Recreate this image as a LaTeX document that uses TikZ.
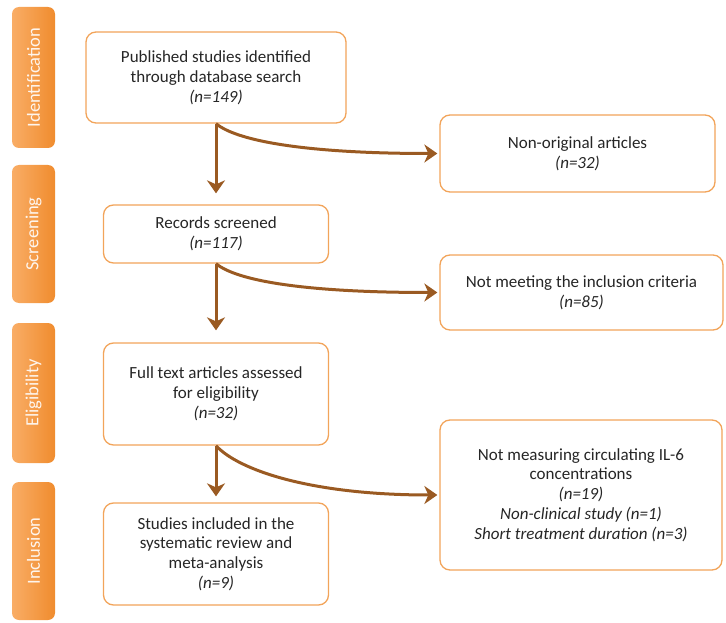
\documentclass[tikz,border=0pt]{standalone}
\usepackage{fontspec}
\setmainfont{Carlito}
\usetikzlibrary{arrows.meta}
\definecolor{boxorange}{HTML}{F2A45A}
\definecolor{phaselight}{HTML}{F9AD66}
\definecolor{phasedark}{HTML}{F08C2E}
\definecolor{arrowbrown}{HTML}{9A5A22}
\definecolor{textgray}{HTML}{262626}
\begin{document}
\begin{tikzpicture}[x=1pt,y=-1pt,
  box/.style={draw=boxorange, line width=1.3pt, rounded corners=10pt, fill=white,
    align=center, inner sep=3pt, text=textgray, font=\fontsize{17}{19.8}\selectfont},
  phase/.style={left color=phaselight, right color=phasedark,
    rounded corners=7pt, rotate=90, minimum height=43pt, inner sep=0pt,
    text=white!88!phaselight, font=\fontsize{18.5}{20}\selectfont},
  flow/.style={draw=arrowbrown, line width=3pt, -{Stealth[length=13pt,width=18pt,inset=4pt]}}
]
\useasboundingbox (0,0) rectangle (726,623);
% phase labels
\node[phase, minimum width=141pt] (pI) at (33.5,77.5) {Identification};
\node[phase, minimum width=138pt] (pS) at (33.5,234) {Screening};
\node[phase, minimum width=140pt] (pE) at (33.5,393) {Eligibility};
\node[phase, minimum width=138pt] (pN) at (33.5,551) {Inclusion};
% main boxes
\node[box, minimum width=260pt, minimum height=91pt] (b1) at (216,77.5)
  {Published studies identified\\through database search\\\textit{(n=149)}};
\node[box, minimum width=225pt, minimum height=58pt] (b2) at (216,234)
  {Records screened\\\textit{(n=117)}};
\node[box, minimum width=225pt, minimum height=102pt] (b3) at (216,394)
  {Full text articles assessed\\for eligibility\\\textit{(n=32)}};
\node[box, minimum width=225pt, minimum height=102pt] (b4) at (216,554)
  {Studies included in the\\systematic review and\\meta-analysis\\\textit{(n=9)}};
% exclusion boxes
\node[box, minimum width=275pt, minimum height=77pt] (r1) at (577.5,153.5)
  {Non-original articles\\\textit{(n=32)}};
\node[box, minimum width=283pt, minimum height=75pt] (r2) at (581.5,292.5)
  {Not meeting the inclusion criteria\\\textit{(n=85)}};
\node[box, minimum width=282pt, minimum height=150pt] (r3) at (581,495)
  {Not measuring circulating IL-6\\concentrations\\\textit{(n=19)}\\\textit{Non-clinical study (n=1)}\\\textit{Short treatment duration (n=3)}};
% arrows
\draw[flow, shorten >=11pt] (b1.south) -- (b2.north);
\draw[flow, shorten >=12pt] (b2.south) -- (b3.north);
\draw[flow, shorten >=6pt] (b3.south) -- (b4.north);
\draw[flow, shorten >=2pt] (b1.south) .. controls +(22,18) and +(-130,0) .. (r1.west);
\draw[flow, shorten >=2pt] (b2.south) .. controls +(22,18) and +(-130,0) .. (r2.west);
\draw[flow, shorten >=2pt] (b3.south) .. controls +(22,24) and +(-130,0) .. (r3.west);
\end{tikzpicture}
\end{document}
